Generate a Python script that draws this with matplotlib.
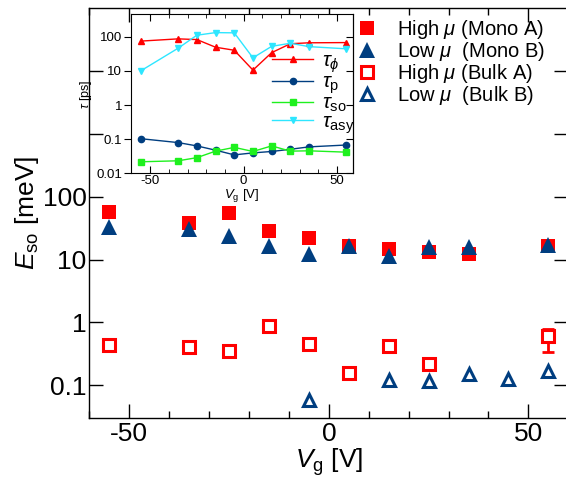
import matplotlib
matplotlib.use('Agg')
import matplotlib.pyplot as plt

plt.rcParams['font.family'] = ['Liberation Sans', 'DejaVu Sans']
plt.rcParams['mathtext.fontset'] = 'custom'
plt.rcParams['mathtext.rm'] = 'Liberation Sans'
plt.rcParams['mathtext.it'] = 'Liberation Sans:italic'
plt.rcParams['mathtext.bf'] = 'Liberation Sans:bold'
plt.rcParams['axes.unicode_minus'] = False

RED = '#ff0000'
NAVY = '#003e80'
GREEN = '#1ef01e'
CYAN = '#2ee6ff'

# main panel data
vg = [-55, -35, -25, -15, -5, 5, 15, 25, 35, 55]
mono_a = [57, 38, 56, 29, 22, 16.3, 14.8, 13, 12.2, 16.3]
mono_b = [33, 30.5, 24, 16.3, 12.2, 16.3, 11.2, 15.7, 15.7, 17.3]
bulk_a_vg = [-55, -35, -25, -15, -5, 5, 15, 25, 55]
bulk_a = [0.44, 0.41, 0.35, 0.89, 0.45, 0.155, 0.42, 0.22, 0.6]
bulk_b_vg = [-5, 15, 25, 35, 45, 55]
bulk_b = [0.058, 0.12, 0.118, 0.15, 0.125, 0.17]
err_vg = [55]
err_val = [0.6]
err_lo = [0.26]
err_hi = [0.2]

# inset data (ps)
tau_phi = [74, 86, 82, 49, 40, 10.5, 34, 62, 66, 67]
tau_p = [0.104, 0.080, 0.064, 0.048, 0.035, 0.040, 0.044, 0.051, 0.060, 0.068]
tau_so = [0.022, 0.0235, 0.029, 0.045, 0.058, 0.044, 0.064, 0.045, 0.046, 0.042]
tau_asy = [10, 46, 110, 131, 129, 24, 52, 64, 51, 44]

fig = plt.figure(figsize=(5.66, 4.79), dpi=100)
ax = fig.add_axes([0.158, 0.127, 0.846, 0.856])

ax.plot(vg, mono_a, 's', color=RED, ms=10.5, mew=0, label=r'High $\mu$ (Mono A)', zorder=3)
ax.plot(vg, mono_b, '^', color=NAVY, ms=12, mew=0, label=r'Low $\mu$  (Mono B)', zorder=4)
ax.errorbar(err_vg, err_val, yerr=[err_lo, err_hi], fmt='none', ecolor=RED,
            elinewidth=2, capsize=4, capthick=2, zorder=2)
ax.plot(bulk_a_vg, bulk_a, 's', mfc='white', mec=RED, ms=8.4, mew=2.2,
        label=r'High $\mu$ (Bulk A)', zorder=3)
ax.plot(bulk_b_vg, bulk_b, '^', mfc='white', mec=NAVY, ms=8.5, mew=2.2,
        label=r'Low $\mu$  (Bulk B)', zorder=3)

ax.set_yscale('log')
ax.set_xlim(-60, 60)
ax.set_ylim(0.03, 1e5)
ax.set_xticks([-50, 0, 50])
ax.set_yticks([0.1, 1, 10, 100, 1000, 1e4])
ax.set_yticklabels(['0.1', '1', '10', '100', '', ''])
ax.yaxis.set_minor_locator(matplotlib.ticker.NullLocator())
ax.set_xticks(range(-60, 61, 10), minor=True)
ax.tick_params(which='both', direction='in', top=True, right=True, width=1)
ax.tick_params(which='major', length=10, labelsize=19)
ax.tick_params(which='minor', length=5)
ax.tick_params(axis='y', pad=2)
ax.tick_params(axis='x', pad=3)
for s in ax.spines.values():
    s.set_linewidth(1)
ax.set_xlabel(r'$V_\mathrm{g}$ [V]', fontsize=19, labelpad=0)
ax.set_ylabel(r'$E_\mathrm{so}$ [meV]', fontsize=19, labelpad=1)

leg = ax.legend(loc='upper left', bbox_to_anchor=(357 / 566, 1 - 18 / 479),
                bbox_transform=fig.transFigure, frameon=False, fontsize=14.5,
                handlelength=1.0, handletextpad=1.0, labelspacing=-0.05,
                borderaxespad=0, borderpad=0)

# inset
ins = fig.add_axes([0.2306, 0.6378, 0.393, 0.3324])
ins.plot(vg, tau_phi, '-^', color=RED, ms=5, lw=1, label=r'$\tau_\phi$')
ins.plot(vg, tau_p, '-o', color=NAVY, ms=4.5, lw=1, label=r'$\tau_\mathrm{p}$')
ins.plot(vg, tau_so, '-s', color=GREEN, ms=4.5, lw=1, label=r'$\tau_\mathrm{so}$')
ins.plot(vg, tau_asy, '-v', color=CYAN, ms=5, lw=1, label=r'$\tau_\mathrm{asy}$')
ins.set_yscale('log')
ins.set_xlim(-60.5, 58.5)
ins.set_ylim(0.01, 450)
ins.set_xticks([-50, 0, 50])
ins.set_xticks(range(-60, 60, 10), minor=True)
ins.set_yticks([0.01, 0.1, 1, 10, 100])
ins.set_yticklabels(['0.01', '0.1', '1', '10', '100'])
ins.yaxis.set_minor_locator(matplotlib.ticker.NullLocator())
ins.tick_params(axis='x', which='both', direction='in', top=True, labelsize=9.5, pad=1)
ins.tick_params(axis='x', which='major', length=5)
ins.tick_params(axis='x', which='minor', length=3)
ins.tick_params(axis='y', direction='out', length=5, labelsize=9.5, pad=1)
sec = ins.secondary_yaxis('right')
sec.set_yticks([0.01, 0.1, 1, 10, 100])
sec.yaxis.set_minor_locator(matplotlib.ticker.NullLocator())
sec.tick_params(direction='in', length=5, labelright=False)
ins.set_xlabel(r'$V_\mathrm{g}$ [V]', fontsize=9.5, labelpad=0)
ins.set_ylabel(r'$\tau$ [ps]', fontsize=9, labelpad=2)
ins.legend(loc='upper left', bbox_to_anchor=(0.635, 0.765), frameon=False,
           fontsize=15, handlelength=2.0, handletextpad=0.4, labelspacing=-0.1,
           borderaxespad=0, borderpad=0)

fig.savefig('out.png', dpi=100)
